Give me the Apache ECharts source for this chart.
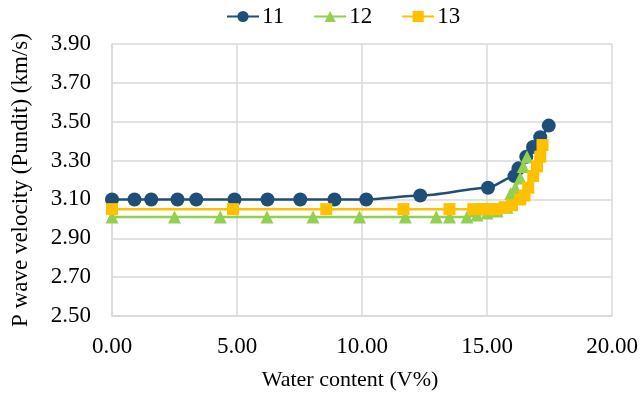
<!DOCTYPE html>
<html><head><meta charset="utf-8">
<script src="https://cdn.jsdelivr.net/npm/echarts@6/dist/echarts.min.js"></script>
<style>html,body{margin:0;padding:0;background:#fff}#c{width:643px;height:396px}</style>
</head><body><div id="c"></div>
<script>
const s11x = [0, 0.9, 1.57, 2.62, 3.37, 4.9, 6.22, 7.53, 8.9, 10.17, 12.33, 15.04, 16.1, 16.26, 16.57, 16.84, 17.13, 17.47];
const s11y = [3.10, 3.10, 3.10, 3.10, 3.10, 3.10, 3.10, 3.10, 3.10, 3.10, 3.12, 3.16, 3.22, 3.26, 3.32, 3.37, 3.42, 3.48];
const s12x = [0, 2.5, 4.33, 6.2, 8.04, 9.9, 11.73, 12.97, 13.5, 14.2, 14.6, 15.0, 15.4, 15.8, 15.95, 16.13, 16.33, 16.45, 16.6];
const s12y = [3.01, 3.01, 3.01, 3.01, 3.01, 3.01, 3.01, 3.01, 3.01, 3.01, 3.02, 3.03, 3.04, 3.06, 3.13, 3.16, 3.21, 3.27, 3.32];
const s13x = [0, 4.84, 8.57, 11.66, 13.5, 14.45, 14.8, 15.1, 15.4, 15.7, 16.0, 16.33, 16.5, 16.65, 16.85, 17.0, 17.13, 17.22];
const s13y = [3.05, 3.05, 3.05, 3.05, 3.05, 3.05, 3.05, 3.05, 3.05, 3.06, 3.07, 3.10, 3.12, 3.16, 3.22, 3.27, 3.32, 3.38];
const xTicks = [0, 5, 10, 15, 20];
const yTicks = [2.5, 2.7, 2.9, 3.1, 3.3, 3.5, 3.7, 3.9];

const zip = (xs, ys) => xs.map((x, i) => [x, ys[i]]);
const font = 'Liberation Serif, Times New Roman, serif';
const chart = echarts.init(document.getElementById('c'), null, {renderer: 'canvas'});
const mk = (name, xs, ys, color, symbol, size) => ({
  name, type: 'line', data: zip(xs, ys), smooth: 0.25, smoothMonotone: 'x',
  symbol, symbolSize: size, itemStyle: {color}, lineStyle: {color, width: 2.5},
  emphasis: {disabled: true}
});
chart.setOption({
  animation: false,
  textStyle: {fontFamily: font},
  legend: {
    top: 0, left: 221, itemWidth: 32, itemHeight: 14, itemGap: 29,
    textStyle: {fontFamily: font, fontSize: 23, color: '#000', padding: [0, 0, 0, -2]},
    data: ['11', '12', '13']
  },
  grid: {left: 112, right: 31, top: 44, bottom: 80, containLabel: false},
  xAxis: {
    type: 'value', min: xTicks[0], max: xTicks[xTicks.length - 1], interval: 5,
    name: 'Water content (V%)', nameLocation: 'middle', nameGap: 53,
    nameTextStyle: {fontFamily: font, fontSize: 22, color: '#000', padding: [0, 24, 0, 0]},
    axisLine: {show: true, lineStyle: {color: '#d9d9d9', width: 1.5}},
    axisTick: {show: false},
    splitLine: {show: true, lineStyle: {color: '#d9d9d9', width: 1.5}},
    axisLabel: {fontFamily: font, fontSize: 23, color: '#000', margin: 19, formatter: v => v.toFixed(2)}
  },
  yAxis: {
    type: 'value', min: yTicks[0], max: yTicks[yTicks.length - 1], interval: 0.2,
    name: 'P wave velocity (Pundit) (km/s)', nameLocation: 'middle', nameGap: 80,
    nameTextStyle: {fontFamily: font, fontSize: 23, color: '#000'},
    axisLine: {show: true, lineStyle: {color: '#d9d9d9', width: 1.5}},
    axisTick: {show: false},
    splitLine: {show: true, lineStyle: {color: '#d9d9d9', width: 1.5}},
    axisLabel: {fontFamily: font, fontSize: 23, color: '#000', margin: 21, formatter: v => v.toFixed(2)}
  },
  series: [
    mk('11', s11x, s11y, '#1f4e79', 'circle', 14),
    mk('12', s12x, s12y, '#92d050', 'triangle', 13),
    mk('13', s13x, s13y, '#ffc000', 'rect', 12)
  ]
});
</script></body></html>
